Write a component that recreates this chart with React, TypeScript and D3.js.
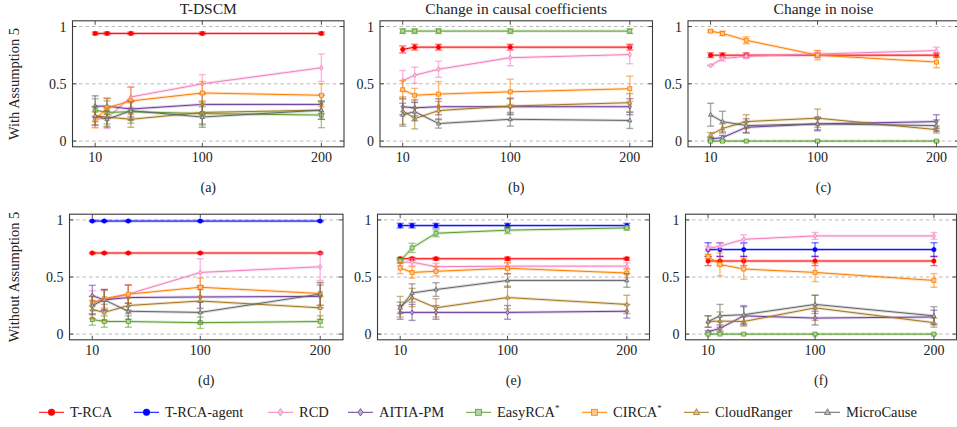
import React from "react";
import * as d3 from "d3";

// Shared x positions (number of nodes) and axis ticks
const xValues = [10, 20, 40, 100, 200];
const xTicks = [10, 100, 200];
const yTicks = [0, 0.5, 1];

// Methods, in legend / drawing order
const methods = ["T-RCA", "T-RCA-agent", "RCD", "AITIA-PM", "EasyRCA", "CIRCA", "CloudRanger", "MicroCause"];
const starred = [false, false, false, false, true, true, false, false];
const colors = ["#ff0000", "#0000ff", "#f47fbf", "#6a3d9a", "#5aa02c", "#ff7f00", "#a6761d", "#666666"];
const shapes = ["dot", "dot", "diamond", "diamond", "square", "square", "triangle", "triangle"];

type Row = number[] | null;

// (a) T-DSCM, with assumption 5
const aMean: Row[] = [
  [0.94, 0.94, 0.94, 0.94, 0.94],
  null,
  [0.19, 0.2, 0.385, 0.5, 0.64],
  [0.305, 0.305, 0.28, 0.32, 0.32],
  [0.27, 0.25, 0.256, 0.24, 0.227],
  [0.185, 0.29, 0.35, 0.42, 0.4],
  [0.22, 0.21, 0.19, 0.25, 0.27],
  [0.22, 0.19, 0.265, 0.21, 0.27],
];
const aErr: Row[] = [
  [0.012, 0.012, 0.012, 0.012, 0.012],
  null,
  [0.07, 0.09, 0.09, 0.08, 0.12],
  [0.09, 0.07, 0.07, 0.09, 0.08],
  [0.1, 0.1, 0.1, 0.1, 0.11],
  [0.07, 0.08, 0.12, 0.1, 0.1],
  [0.08, 0.08, 0.07, 0.1, 0.08],
  [0.08, 0.07, 0.08, 0.09, 0.08],
];

// (b) change in causal coefficients, with assumption 5
const bMean: Row[] = [
  [0.8, 0.82, 0.82, 0.82, 0.82],
  null,
  [0.526, 0.575, 0.627, 0.728, 0.755],
  [0.3, 0.29, 0.3, 0.3, 0.3],
  [0.96, 0.96, 0.96, 0.96, 0.96],
  [0.448, 0.4, 0.41, 0.43, 0.457],
  [0.266, 0.196, 0.266, 0.306, 0.335],
  [0.23, 0.257, 0.153, 0.19, 0.18],
];
const bErr: Row[] = [
  [0.03, 0.025, 0.025, 0.025, 0.025],
  null,
  [0.09, 0.07, 0.07, 0.07, 0.08],
  [0.07, 0.07, 0.07, 0.07, 0.07],
  [0.02, 0.02, 0.02, 0.02, 0.02],
  [0.08, 0.06, 0.11, 0.11, 0.11],
  [0.12, 0.09, 0.08, 0.07, 0.08],
  [0.1, 0.08, 0.04, 0.06, 0.07],
];

// (c) change in noise, with assumption 5
const cMean: Row[] = [
  [0.75, 0.75, 0.75, 0.75, 0.75],
  null,
  [0.66, 0.72, 0.74, 0.76, 0.79],
  [0.02, 0.03, 0.12, 0.15, 0.17],
  [0, 0, 0, 0, 0],
  [0.96, 0.94, 0.88, 0.75, 0.69],
  [0.055, 0.11, 0.17, 0.2, 0.1],
  [0.23, 0.17, 0.135, 0.15, 0.135],
];
const cErr: Row[] = [
  [0.02, 0.02, 0.02, 0.02, 0.02],
  null,
  [0.005, 0.02, 0.02, 0.03, 0.03],
  [0.01, 0.02, 0.05, 0.06, 0.06],
  [0, 0, 0, 0, 0],
  [0.01, 0.02, 0.03, 0.04, 0.05],
  [0.02, 0.04, 0.06, 0.08, 0.03],
  [0.1, 0.09, 0.06, 0.05, 0.05],
];

// (d) T-DSCM, without assumption 5
const dMean: Row[] = [
  [0.71, 0.71, 0.71, 0.71, 0.71],
  [0.99, 0.99, 0.99, 0.99, 0.99],
  [0.28, 0.3, 0.35, 0.54, 0.59],
  [0.337, 0.3, 0.32, 0.325, 0.33],
  [0.128, 0.11, 0.11, 0.1, 0.11],
  [0.27, 0.31, 0.35, 0.41, 0.355],
  [0.215, 0.19, 0.25, 0.29, 0.23],
  [0.25, 0.3, 0.2, 0.19, 0.35],
];
const dErr: Row[] = [
  [0.006, 0.006, 0.006, 0.006, 0.006],
  [0.005, 0.005, 0.005, 0.005, 0.005],
  [0.1, 0.08, 0.08, 0.12, 0.12],
  [0.09, 0.09, 0.11, 0.1, 0.1],
  [0.05, 0.05, 0.05, 0.05, 0.05],
  [0.06, 0.08, 0.08, 0.08, 0.1],
  [0.08, 0.07, 0.07, 0.1, 0.1],
  [0.08, 0.09, 0.07, 0.09, 0.1],
];

// (e) change in causal coefficients, without assumption 5
const eMean: Row[] = [
  [0.66, 0.66, 0.66, 0.66, 0.66],
  [0.95, 0.95, 0.95, 0.95, 0.95],
  [0.63, 0.63, 0.59, 0.595, 0.595],
  [0.19, 0.19, 0.19, 0.19, 0.2],
  [0.64, 0.755, 0.883, 0.91, 0.93],
  [0.58, 0.54, 0.55, 0.576, 0.535],
  [0.24, 0.32, 0.23, 0.32, 0.26],
  [0.23, 0.36, 0.39, 0.47, 0.47],
];
const eErr: Row[] = [
  [0.012, 0.012, 0.012, 0.015, 0.012],
  [0.02, 0.02, 0.02, 0.02, 0.02],
  [0.03, 0.03, 0.03, 0.03, 0.03],
  [0.06, 0.07, 0.06, 0.06, 0.06],
  [0.02, 0.04, 0.03, 0.03, 0.02],
  [0.05, 0.05, 0.04, 0.05, 0.04],
  [0.09, 0.08, 0.08, 0.1, 0.08],
  [0.05, 0.08, 0.06, 0.06, 0.06],
];

// (f) change in noise, without assumption 5
const fMean: Row[] = [
  [0.64, 0.64, 0.64, 0.64, 0.64],
  [0.74, 0.74, 0.74, 0.74, 0.74],
  [0.75, 0.77, 0.83, 0.86, 0.86],
  [0.02, 0.05, 0.16, 0.14, 0.15],
  [0, 0, 0, 0, 0],
  [0.68, 0.61, 0.57, 0.54, 0.47],
  [0.11, 0.114, 0.11, 0.23, 0.1],
  [0.11, 0.16, 0.17, 0.26, 0.16],
];
const fErr: Row[] = [
  [0.04, 0.04, 0.04, 0.04, 0.04],
  [0.06, 0.06, 0.06, 0.06, 0.06],
  [0.02, 0.03, 0.04, 0.03, 0.03],
  [0.01, 0.03, 0.08, 0.06, 0.06],
  [0, 0, 0, 0, 0],
  [0.02, 0.1, 0.09, 0.08, 0.06],
  [0.05, 0.08, 0.04, 0.11, 0.04],
  [0.05, 0.1, 0.08, 0.08, 0.08],
];

const FONT = "Liberation Serif, Tinos, Times New Roman, DejaVu Serif, serif";
const W = 957;
const H = 427;
const txt = { fontFamily: FONT, fill: "#222" } as const;

interface PanelSpec {
  x0: number;
  x1: number;
  y0: number;
  y1: number;
  title?: string;
  caption: string;
  mean: Row[];
  err: Row[];
}

const TOP = { y0: 20.8, y1: 146.8 };
const BOT = { y0: 214.2, y1: 339.8 };

const panels: PanelSpec[] = [
  { x0: 72.5, x1: 344, ...TOP, title: "T-DSCM", caption: "(a)", mean: aMean, err: aErr },
  { x0: 380, x1: 652.5, ...TOP, title: "Change in causal coefficients", caption: "(b)", mean: bMean, err: bErr },
  { x0: 688, x1: 959, ...TOP, title: "Change in noise", caption: "(c)", mean: cMean, err: cErr },
  { x0: 69.5, x1: 343, ...BOT, caption: "(d)", mean: dMean, err: dErr },
  { x0: 377.5, x1: 649.5, ...BOT, caption: "(e)", mean: eMean, err: eErr },
  { x0: 685.5, x1: 956.5, ...BOT, caption: "(f)", mean: fMean, err: fErr },
];

const tint = (c: string, k: number) => d3.interpolateRgb(c, "#ffffff")(k);

function Marker({ shape, cx, cy, s, color }: { shape: string; cx: number; cy: number; s: number; color: string }) {
  if (shape === "dot") {
    return <circle cx={cx} cy={cy} r={s} fill={color} stroke={color} strokeWidth={0.6} />;
  }
  const fill = tint(color, 0.55);
  if (shape === "diamond") {
    const pts = [[cx, cy - s * 1.25], [cx + s * 0.85, cy], [cx, cy + s * 1.25], [cx - s * 0.85, cy]];
    return <polygon points={pts.map((p) => p.join(",")).join(" ")} fill={fill} stroke={color} strokeWidth={0.8} />;
  }
  if (shape === "square") {
    return <rect x={cx - s} y={cy - s} width={2 * s} height={2 * s} fill={fill} stroke={color} strokeWidth={0.8} />;
  }
  const pts = [[cx, cy - s * 1.2], [cx + s * 1.05, cy + s * 0.75], [cx - s * 1.05, cy + s * 0.75]];
  return <polygon points={pts.map((p) => p.join(",")).join(" ")} fill={fill} stroke={color} strokeWidth={0.8} />;
}

function Panel({ p }: { p: PanelSpec }) {
  const x = d3.scaleLinear().domain([-9, 219]).range([p.x0, p.x1]);
  const y = d3.scaleLinear().domain([-0.05, 1.05]).range([p.y1, p.y0]);
  const line = d3
    .line<number>()
    .x((_, i) => x(xValues[i]))
    .y((v) => y(v));
  const cx = (p.x0 + p.x1) / 2;
  const tick = 4;
  return (
    <g>
      {p.title && (
        <text x={cx} y={13.5} textAnchor="middle" fontSize={15.5} style={txt}>
          {p.title}
        </text>
      )}
      {/* dashed horizontal grid */}
      {yTicks.map((t) => (
        <line key={"g" + t} x1={p.x0} x2={p.x1} y1={y(t)} y2={y(t)} stroke="#b8b8b8" strokeWidth={1} strokeDasharray="3.5,3" />
      ))}
      {/* series */}
      {p.mean.map((row, k) => {
        if (!row) return null;
        const e = p.err[k] as number[];
        const col = colors[k];
        return (
          <g key={methods[k]}>
            <path d={line(row) as string} fill="none" stroke={col} strokeOpacity={0.22} strokeWidth={3} />
            <path d={line(row) as string} fill="none" stroke={col} strokeWidth={1} />
            {row.map((v, i) => {
              const px = x(xValues[i]);
              const lo = y(v - e[i]);
              const hi = y(v + e[i]);
              return (
                <g key={i} stroke={col} strokeOpacity={0.55} strokeWidth={1.4}>
                  <line x1={px} x2={px} y1={lo} y2={hi} />
                  <line x1={px - 3.5} x2={px + 3.5} y1={lo} y2={lo} />
                  <line x1={px - 3.5} x2={px + 3.5} y1={hi} y2={hi} />
                </g>
              );
            })}
            {row.map((v, i) => (
              <Marker key={"m" + i} shape={shapes[k]} cx={x(xValues[i])} cy={y(v)} s={shapes[k] === "dot" ? 2.2 : 2} color={col} />
            ))}
          </g>
        );
      })}
      {/* frame and inward ticks */}
      <rect x={p.x0} y={p.y0} width={p.x1 - p.x0} height={p.y1 - p.y0} fill="none" stroke="#3a3a3a" strokeWidth={1.1} />
      {xTicks.map((t) => (
        <g key={"xt" + t} stroke="#3a3a3a" strokeWidth={0.9}>
          <line x1={x(t)} x2={x(t)} y1={p.y1} y2={p.y1 - tick} />
          <line x1={x(t)} x2={x(t)} y1={p.y0} y2={p.y0 + tick} />
        </g>
      ))}
      {yTicks.map((t) => (
        <g key={"yt" + t} stroke="#3a3a3a" strokeWidth={0.9}>
          <line x1={p.x0} x2={p.x0 + tick} y1={y(t)} y2={y(t)} />
          <line x1={p.x1} x2={p.x1 - tick} y1={y(t)} y2={y(t)} />
        </g>
      ))}
      {xTicks.map((t) => (
        <text key={"xl" + t} x={x(t)} y={p.y1 + 15} textAnchor="middle" fontSize={14} style={txt}>
          {t}
        </text>
      ))}
      {yTicks.map((t) => (
        <text key={"yl" + t} x={p.x0 - 6} y={y(t) + 5} textAnchor="end" fontSize={14} style={txt}>
          {t}
        </text>
      ))}
      <text x={cx} y={p.y1 + 45.5} textAnchor="middle" fontSize={14} style={txt}>
        {p.caption}
      </text>
    </g>
  );
}

// legend entry positions along the bottom row
const legendX = [39, 134, 268, 348, 466, 582, 684, 815];

export default function App() {
  const ly = 412.3;
  return (
    <svg width={W} height={H} viewBox={`0 0 ${W} ${H}`} style={{ position: "absolute", left: 0, top: 0, background: "#fff" }}>
      <rect width={W} height={H} fill="#fff" />
      {panels.map((p) => (
        <Panel key={p.caption} p={p} />
      ))}
      <text transform="translate(19,84) rotate(-90)" textAnchor="middle" fontSize={14.5} style={txt}>
        With Assumption 5
      </text>
      <text transform="translate(19,277) rotate(-90)" textAnchor="middle" fontSize={14.5} style={txt}>
        Without Assumption 5
      </text>
      {methods.map((m, k) => {
        const x0 = legendX[k];
        return (
          <g key={"lg" + m}>
            <line x1={x0} x2={x0 + 25} y1={ly} y2={ly} stroke={colors[k]} strokeWidth={1} />
            <Marker shape={shapes[k]} cx={x0 + 12.5} cy={ly} s={shapes[k] === "dot" ? 3.3 : 3} color={colors[k]} />
            <text x={x0 + 31} y={ly + 5} fontSize={14.5} style={txt}>
              {m}
              {starred[k] && (
                <tspan dy={-6} fontSize={9}>
                  *
                </tspan>
              )}
            </text>
          </g>
        );
      })}
    </svg>
  );
}
